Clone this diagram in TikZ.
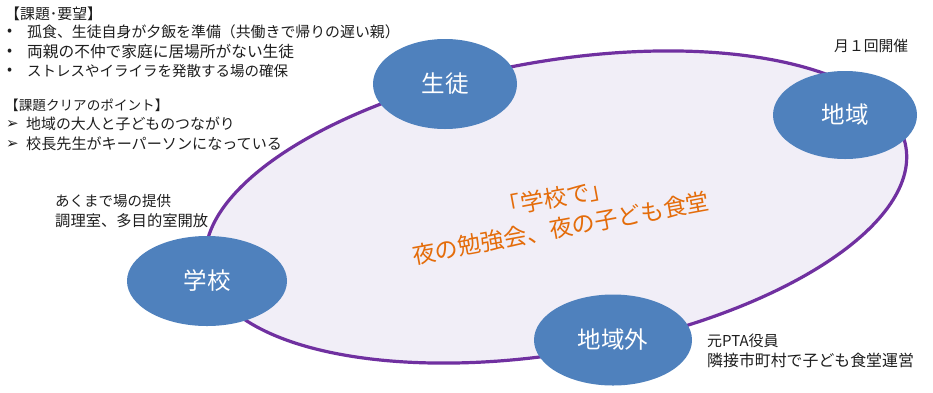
\documentclass[tikz,border=0pt]{standalone}
\usepackage{fontspec}
\usetikzlibrary{shapes.geometric}
\setmainfont{Noto Sans CJK JP}
\newfontfamily\symfont{DejaVu Sans}
\definecolor{blob}{RGB}{79,129,189}
\definecolor{ringline}{RGB}{112,48,160}
\definecolor{ringfill}{RGB}{241,238,247}
\definecolor{orangetxt}{RGB}{228,108,10}
\definecolor{txt}{RGB}{30,30,30}
\newcommand{\fsz}[1]{\fontsize{#1}{#1}\selectfont}
\tikzset{
  actor/.style={ellipse,fill=blob,draw=none,inner sep=0pt,text=white,font=\fsz{23.5}},
  note/.style={anchor=west,inner sep=0pt,text=txt,font=\fsz{14.9}},
  mark sym/.style={anchor=west,inner sep=0pt,text=txt,font=\symfont\fsz{15}},
}
\begin{document}
\begin{tikzpicture}[x=1pt,y=-1pt]
\useasboundingbox (0,0) rectangle (933,392);
\fill[white] (0,0) rectangle (933,392);
\draw[ringline,line width=3.2pt,fill=ringfill] (556,207) ellipse[x radius=355,y radius=146,rotate=9.8];
\node[actor,minimum width=144pt,minimum height=90pt] (seito) at (445,84) {生徒};
\node[actor,minimum width=144pt,minimum height=88pt] (chiiki) at (845,115) {地域};
\node[actor,minimum width=160pt,minimum height=90pt] (gakko) at (207,281) {学校};
\node[actor,minimum width=158pt,minimum height=91pt] (gai) at (613,340) {地域外};
\node[note] (t1) at (5,14) {【課題･要望】};
\node[note] (t2) at (7,32) {•};
\node[note] (t3) at (27,32) {孤食、生徒自身が夕飯を準備（共働きで帰りの遅い親）};
\node[note] (t4) at (7,52) {•};
\node[note,font=\fsz{15.7}] (t5) at (27,52) {両親の不仲で家庭に居場所がない生徒};
\node[note] (t6) at (7,71) {•};
\node[note,font=\fsz{14.5}] (t7) at (27,71) {ストレスやイライラを発散する場の確保};
\node[note,font=\fsz{13.6}] (t8) at (5,105) {【課題クリアのポイント】};
\node[mark sym] (t9) at (6,124) {➢};
\node[note] (t10) at (26,124) {地域の大人と子どものつながり};
\node[mark sym] (t11) at (6,144) {➢};
\node[note,font=\fsz{15.1}] (t12) at (26,144) {校長先生がキーパーソンになっている};
\node[note,font=\fsz{14.5}] (t13) at (55,201) {あくまで場の提供};
\node[note,font=\fsz{15.3}] (t14) at (55,221) {調理室、多目的室開放};
\node[note,font=\fsz{14.8}] (t15) at (834,46) {月１回開催};
\node[note,font=\fsz{15}] (t16) at (707,341) {元PTA役員};
\node[note,font=\fsz{15.9}] (t17) at (707,360) {隣接市町村で子ども食堂運営};
\node[align=center,text=orangetxt,rotate=10.5,inner sep=0pt,font=\fontsize{23.2}{31}\selectfont] (center) at (558,213) {「学校で」\\夜の勉強会、夜の子ども食堂};
\end{tikzpicture}
\end{document}
